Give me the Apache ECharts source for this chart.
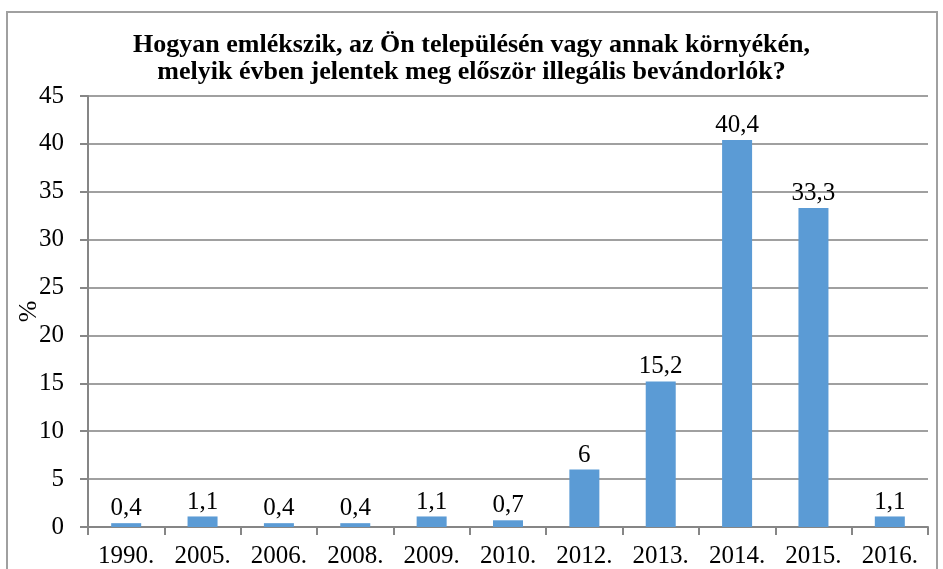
<!DOCTYPE html>
<html lang="hu">
<head>
    <meta charset="utf-8">
    <title>Illegális bevándorlók</title>
    <script src="https://cdn.jsdelivr.net/npm/echarts@6/dist/echarts.min.js"></script>
    <style>
        html, body { margin: 0; padding: 0; background: #fff; }
        #frame {
            position: absolute; left: 6px; top: 11px; width: 932px; height: 570px;
            border: 2px solid #a0a0a0; box-sizing: border-box;
        }
        #main { position: absolute; left: 0; top: 0; width: 943px; height: 569px; }
    </style>
</head>
<body>
<div id="frame"></div>
<div id="main"></div>
<script type="text/javascript">
    // adatok
    var years = ['1990.', '2005.', '2006.', '2008.', '2009.', '2010.', '2012.', '2013.', '2014.', '2015.', '2016.'];
    var percents = [0.4, 1.1, 0.4, 0.4, 1.1, 0.7, 6, 15.2, 40.4, 33.3, 1.1];
    var titleText = 'Hogyan emlékszik, az Ön településén vagy annak környékén,\nmelyik évben jelentek meg először illegális bevándorlók?';

    var serif = '"Liberation Serif", "DejaVu Serif", serif';
    var myChart = echarts.init(document.getElementById('main'));
    var option = {
        animation: false,
        title: {
            text: titleText,
            left: 'center',
            top: 27,
            textStyle: {
                fontFamily: serif,
                fontWeight: 'bold',
                fontSize: 26,
                lineHeight: 27,
                color: '#000'
            }
        },
        grid: { left: 88, right: 15, top: 96, bottom: 42 },
        xAxis: {
            type: 'category',
            data: years,
            axisLine: { lineStyle: { color: '#868686', width: 2 } },
            axisTick: { show: true, length: 8, lineStyle: { color: '#868686', width: 2 } },
            axisLabel: { fontFamily: serif, fontSize: 25, color: '#000', margin: 17 }
        },
        yAxis: {
            type: 'value',
            min: 0,
            max: 45,
            interval: 5,
            name: '%',
            nameLocation: 'middle',
            nameGap: 46,
            nameRotate: 90,
            nameMoveOverlap: false,
            nameTextStyle: { fontFamily: serif, fontSize: 26, color: '#000' },
            axisLine: { show: true, lineStyle: { color: '#868686', width: 2 } },
            axisTick: { show: true, inside: false, length: 8, lineStyle: { color: '#868686', width: 2 } },
            axisLabel: { fontFamily: serif, fontSize: 25, color: '#000', margin: 24 },
            splitLine: { lineStyle: { color: '#a0a0a0', width: 2 } }
        },
        series: [{
            type: 'bar',
            data: percents,
            barWidth: 30,
            itemStyle: { color: '#5b9bd5' },
            label: {
                show: true,
                position: 'top',
                distance: 2,
                fontFamily: serif,
                fontSize: 25,
                color: '#000',
                formatter: function (p) { return String(p.value).replace('.', ','); }
            }
        }]
    };
    myChart.setOption(option);
</script>
</body>
</html>
